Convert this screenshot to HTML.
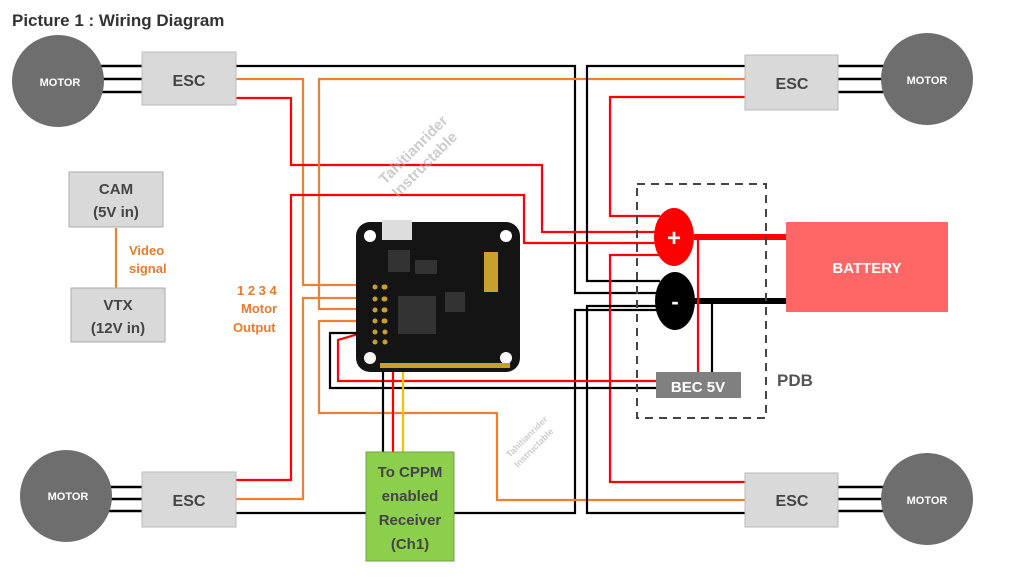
<!DOCTYPE html>
<html><head><style>
body{margin:0;background:#fff;}
svg text{font-family:"Liberation Sans",sans-serif;font-weight:bold;}
</style></head><body>
<svg width="1024" height="579" viewBox="0 0 1024 579" xmlns="http://www.w3.org/2000/svg">
<rect width="1024" height="579" fill="#fff"/>
<text x="12" y="26" font-size="17" fill="#333">Picture 1 : Wiring Diagram</text>
<g fill="none" stroke-width="2.2">
<polyline points="236,66 575,66 575,293 660,293" stroke="#000"/>
<polyline points="236,79 303,79 303,285 385,285" stroke="#f08030"/>
<polyline points="236,98 291,98 291,165 542,165 542,232 660,232" stroke="#f00"/>
<polyline points="745,79 319,79 319,309 385,309" stroke="#f08030"/>
<polyline points="745,66 587,66 587,281 660,281" stroke="#000"/>
<polyline points="745,97 610,97 610,216 660,216" stroke="#f00"/>
<polyline points="236,480 291,480 291,195 524,195 524,243 660,243" stroke="#f00"/>
<polyline points="236,499 303,499 303,298 385,298" stroke="#f08030"/>
<polyline points="236,513 575,513 575,310 660,310" stroke="#000"/>
<polyline points="745,500 497,500 497,413 319,413 319,321 385,321" stroke="#f08030"/>
<polyline points="745,482 610,482 610,255 660,255" stroke="#f00"/>
<polyline points="745,513 587,513 587,306 660,306" stroke="#000"/>
<polyline points="372,330 338,340 338,381 660,381" stroke="#f00"/>
<polyline points="365,333 330,333 330,388 660,388" stroke="#000"/>
<line x1="383" y1="365" x2="383" y2="452" stroke="#000"/>
<line x1="393" y1="365" x2="393" y2="452" stroke="#f00"/>
<line x1="403" y1="365" x2="403" y2="452" stroke="#f5c000"/>
<g stroke="#000" stroke-width="2.5">
<line x1="100" y1="66" x2="142" y2="66"/><line x1="102" y1="79" x2="142" y2="79"/><line x1="100" y1="92" x2="142" y2="92"/>
<line x1="838" y1="66" x2="885" y2="66"/><line x1="838" y1="79" x2="885" y2="79"/><line x1="838" y1="92" x2="885" y2="92"/>
<line x1="108" y1="487" x2="142" y2="487"/><line x1="110" y1="499" x2="142" y2="499"/><line x1="108" y1="511" x2="142" y2="511"/>
<line x1="838" y1="487" x2="885" y2="487"/><line x1="838" y1="499" x2="885" y2="499"/><line x1="838" y1="511" x2="885" y2="511"/>
</g>
<line x1="694" y1="237" x2="786" y2="237" stroke="#f00" stroke-width="6"/>
<line x1="694" y1="301" x2="786" y2="301" stroke="#000" stroke-width="6"/>
<line x1="698" y1="237" x2="698" y2="372" stroke="#f00"/>
<line x1="712" y1="301" x2="712" y2="372" stroke="#000"/>
<line x1="116" y1="228" x2="116" y2="288" stroke="#f08030"/>
</g>
<rect x="637" y="184" width="129" height="234" fill="none" stroke="#444" stroke-width="2" stroke-dasharray="8,6"/>
<ellipse cx="674" cy="237" rx="20" ry="29" fill="#f00"/>
<text x="674" y="246" font-size="24" fill="#fff" text-anchor="middle">+</text>
<ellipse cx="675" cy="301" rx="20" ry="29" fill="#000"/>
<text x="675" y="309" font-size="22" fill="#fff" text-anchor="middle">-</text>
<rect x="656" y="372" width="85" height="26" fill="#808080"/>
<text x="698" y="392" font-size="15" fill="#fff" text-anchor="middle">BEC 5V</text>
<text x="795" y="386" font-size="17" fill="#555" text-anchor="middle">PDB</text>
<rect x="786" y="222" width="162" height="90" fill="#ff6666"/>
<text x="867" y="273" font-size="15" fill="#fff" text-anchor="middle">BATTERY</text>
<g fill="#6e6e6e"><circle cx="58" cy="81" r="46"/><circle cx="927" cy="79" r="46"/><circle cx="66" cy="496" r="46"/><circle cx="927" cy="499" r="46"/></g>
<g font-size="11" fill="#fff" text-anchor="middle">
<text x="60" y="86">MOTOR</text><text x="927" y="84">MOTOR</text><text x="68" y="500">MOTOR</text><text x="927" y="504">MOTOR</text></g>
<g fill="#d9d9d9" stroke="#bbb"><rect x="142" y="52" width="94" height="53"/><rect x="745" y="55" width="93" height="55"/><rect x="142" y="472" width="94" height="55"/><rect x="745" y="473" width="93" height="54"/></g>
<g font-size="16" fill="#444" text-anchor="middle"><text x="189" y="86">ESC</text><text x="792" y="89">ESC</text><text x="189" y="506">ESC</text><text x="792" y="506">ESC</text></g>
<rect x="69" y="172" width="94" height="55" fill="#d9d9d9" stroke="#aaa"/>
<rect x="71" y="288" width="94" height="54" fill="#d9d9d9" stroke="#aaa"/>
<g font-size="15" fill="#444" text-anchor="middle"><text x="116" y="194">CAM</text><text x="116" y="217">(5V in)</text><text x="118" y="310">VTX</text><text x="118" y="333">(12V in)</text></g>
<g font-size="13" fill="#e87a2a"><text x="129" y="255">Video</text><text x="129" y="273">signal</text>
<text x="237" y="295">1 2 3 4</text><text x="241" y="313">Motor</text><text x="233" y="332">Output</text></g>
<rect x="366" y="452" width="88" height="109" fill="#8ccf4d" stroke="#70a040"/>
<g font-size="15" fill="#444" text-anchor="middle"><text x="410" y="477">To CPPM</text><text x="410" y="501">enabled</text><text x="410" y="525">Receiver</text><text x="410" y="549">(Ch1)</text></g>
<rect x="356" y="222" width="164" height="150" rx="14" fill="#141414"/>
<rect x="382" y="220" width="30" height="20" fill="#ddd"/>
<g fill="#fff"><circle cx="370" cy="236" r="6"/><circle cx="506" cy="236" r="6"/><circle cx="370" cy="358" r="6"/><circle cx="506" cy="358" r="6"/></g>
<rect x="398" y="296" width="38" height="38" fill="#333"/>
<rect x="388" y="250" width="22" height="22" fill="#333"/>
<rect x="415" y="260" width="22" height="14" fill="#333"/>
<rect x="445" y="292" width="20" height="20" fill="#333"/>
<g fill="#c9a030">
<circle cx="375" cy="287" r="2.5"/><circle cx="385" cy="287" r="2.5"/><circle cx="384" cy="287" r="2.5"/>
<circle cx="375" cy="299" r="2.5"/><circle cx="385" cy="299" r="2.5"/><circle cx="384" cy="299" r="2.5"/>
<circle cx="375" cy="310" r="2.5"/><circle cx="385" cy="310" r="2.5"/><circle cx="384" cy="310" r="2.5"/>
<circle cx="375" cy="321" r="2.5"/><circle cx="385" cy="321" r="2.5"/><circle cx="384" cy="321" r="2.5"/>
<circle cx="375" cy="332" r="2.5"/><circle cx="385" cy="332" r="2.5"/>
<circle cx="375" cy="342" r="2.5"/><circle cx="385" cy="342" r="2.5"/>
<rect x="484" y="252" width="14" height="40"/>
<rect x="380" y="363" width="130" height="5"/>
</g>
<g font-size="15" fill="#aaa" font-weight="normal" opacity="0.6">
<text x="0" y="0" transform="translate(385,185) rotate(-45)">Tahitianrider</text>
<text x="0" y="0" transform="translate(398,198) rotate(-45)">Instructable</text>
<text x="0" y="0" font-size="9" transform="translate(510,458) rotate(-45)">Tahitianrider</text>
<text x="0" y="0" font-size="9" transform="translate(518,468) rotate(-45)">Instructable</text>
</g>
</svg>
</body></html>
